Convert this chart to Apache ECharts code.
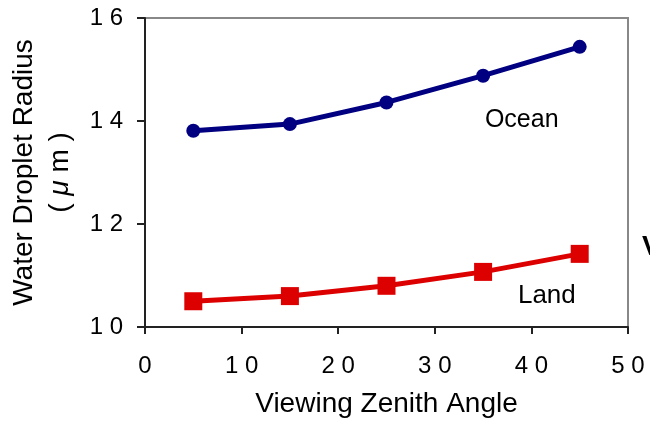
<!DOCTYPE html>
<html>
<head>
<meta charset="utf-8">
<script src="https://cdn.jsdelivr.net/npm/echarts@6/dist/echarts.min.js"></script>
<style>
html, body { margin: 0; padding: 0; background: #fff; }
#main { width: 650px; height: 422px; }
</style>
</head>
<body>
<div id="main"></div>
<script>
var angles = [5, 15, 25, 35, 45];
var ocean = [13.81, 13.94, 14.36, 14.88, 15.44];
var land = [10.50, 10.60, 10.80, 11.07, 11.42];
var xTicks = [0, 10, 20, 30, 40, 50];
var yTicks = [10, 12, 14, 16];

var font = 'Liberation Sans, Arial, sans-serif';
var spaced = function(v) {
	return String(v).split('').join(' ');
};
var pairs = function(ys) {
	var res = [];
	for (var i = 0; i < angles.length; i++) {
		res.push([angles[i], ys[i]]);
	}
	return res;
};

var chart = echarts.init(document.getElementById('main'));
chart.setOption({
	animation: false,
	backgroundColor: '#fff',
	grid: {
		left: 145, right: 22, top: 18, bottom: 95,
		containLabel: false, outerBoundsMode: 'none',
		show: true, borderColor: '#888', borderWidth: 2
	},
	xAxis: {
		type: 'value',
		min: xTicks[0],
		max: xTicks[xTicks.length - 1],
		interval: 10,
		name: 'Viewing Zenith Angle',
		nameLocation: 'middle',
		nameGap: 63,
		nameTextStyle: { fontFamily: font, fontSize: 28, color: '#000' },
		axisLine: { lineStyle: { color: '#222', width: 2 } },
		axisTick: { show: true, length: 7, lineStyle: { color: '#222', width: 2 } },
		axisLabel: { formatter: spaced, fontFamily: font, fontSize: 24, color: '#000', margin: 27 },
		splitLine: { show: false }
	},
	yAxis: {
		type: 'value',
		min: yTicks[0],
		max: yTicks[yTicks.length - 1],
		interval: 2,
		name: 'Water Droplet Radius\n{a|( }{i|μ}{a| m )}',
		nameLocation: 'middle',
		nameRotate: 90,
		nameGap: 67,
		nameTextStyle: {
			fontFamily: font, fontSize: 28, color: '#000', lineHeight: 36,
			rich: {
				a: { fontFamily: font, fontSize: 28, color: '#000', lineHeight: 36 },
				i: { fontFamily: font, fontSize: 28, color: '#000', fontStyle: 'italic', lineHeight: 36 }
			}
		},
		axisLine: { show: true, lineStyle: { color: '#222', width: 2 } },
		axisTick: { show: true, length: 8, lineStyle: { color: '#222', width: 2 } },
		axisLabel: { formatter: spaced, fontFamily: font, fontSize: 24, color: '#000', margin: 22 },
		splitLine: { show: false }
	},
	graphic: [{
		type: 'text',
		left: 642,
		top: 233,
		style: { text: 'V', fontFamily: font, fontSize: 28, fontWeight: 'bold', fill: '#000' }
	}],
	series: [{
		name: 'Ocean',
		type: 'line',
		data: pairs(ocean),
		symbol: 'circle',
		symbolSize: 14,
		lineStyle: { color: '#000080', width: 5 },
		itemStyle: { color: '#000080' },
		markPoint: {
			symbol: 'circle',
			symbolSize: 0,
			data: [{ coord: [39, 14.02] }],
			label: { show: true, position: 'inside', formatter: 'Ocean', fontFamily: font, fontSize: 25, color: '#000' }
		}
	}, {
		name: 'Land',
		type: 'line',
		data: pairs(land),
		symbol: 'rect',
		symbolSize: 18,
		lineStyle: { color: '#dd0000', width: 5 },
		itemStyle: { color: '#dd0000' },
		markPoint: {
			symbol: 'circle',
			symbolSize: 0,
			data: [{ coord: [41.6, 10.6] }],
			label: { show: true, position: 'inside', formatter: 'Land', fontFamily: font, fontSize: 26, color: '#000' }
		}
	}]
});
window.onresize = chart.resize;
</script>
</body>
</html>
